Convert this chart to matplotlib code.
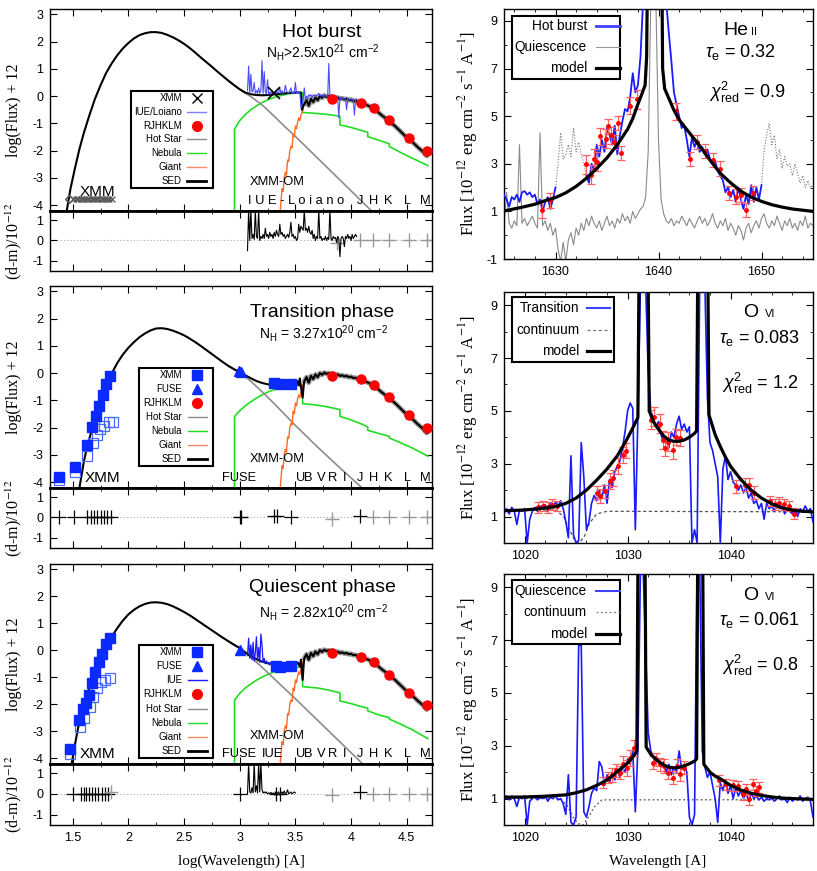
import numpy as np
import matplotlib
matplotlib.use('Agg')
import matplotlib.pyplot as plt
from matplotlib.patches import Rectangle
from matplotlib.ticker import MultipleLocator, FixedLocator

plt.rcParams['font.family'] = ['Liberation Sans', 'DejaVu Sans']
plt.rcParams['mathtext.fontset'] = 'custom'
plt.rcParams['mathtext.rm'] = 'Liberation Sans'
plt.rcParams['mathtext.it'] = 'Liberation Sans:italic'
plt.rcParams['mathtext.bf'] = 'Liberation Sans:bold'
plt.rcParams['axes.unicode_minus'] = False

# ===================== SED panels (left) =====================
# hot-star dominated part of the SED, per phase
sed_x_top = [1.446,1.48,1.52,1.56,1.6,1.65,1.7,1.75,1.8,1.85,1.9,1.95,2.0,2.05,2.1,2.15,2.2,2.25,2.3,2.35,
             2.4,2.45,2.5,2.55,2.6,2.65,2.7,2.75,2.8,2.85,2.9,2.95,3.0,3.05,3.1,3.15,3.2,3.25,3.3,3.35,
             3.4,3.45,3.5,3.53,3.55,3.56,3.57]
sed_y_top = [-4.22,-3.4,-2.65,-1.95,-1.35,-0.7,-0.1,0.4,0.85,1.2,1.5,1.75,1.95,2.12,2.24,2.31,2.35,2.35,2.32,2.25,
             2.16,2.05,1.92,1.77,1.6,1.42,1.25,1.08,0.9,0.73,0.56,0.4,0.25,0.13,0.07,0.04,0.03,0.04,0.06,0.08,
             0.1,0.12,0.13,0.14,0.13,-0.5,-0.35]
sed_x_mid = [1.56,1.6,1.63,1.66,1.7,1.75,1.8,1.85,1.9,1.95,2.0,2.05,2.1,2.15,2.2,2.25,2.3,2.35,2.4,2.45,
             2.5,2.55,2.6,2.65,2.7,2.75,2.8,2.85,2.9,2.95,3.0,3.05,3.1,3.15,3.2,3.25,3.3,3.35,3.4,3.45,
             3.5,3.52,3.53,3.54,3.55,3.565,3.575]
sed_y_mid = [-4.22,-3.25,-2.7,-2.25,-1.7,-1.05,-0.5,-0.02,0.37,0.68,0.93,1.14,1.32,1.46,1.57,1.64,1.65,1.62,1.56,1.48,
             1.39,1.27,1.14,1.0,0.85,0.7,0.55,0.4,0.26,0.14,0.03,-0.08,-0.19,-0.29,-0.36,-0.41,-0.44,-0.45,-0.45,-0.44,
             -0.42,-0.3,-0.45,-0.2,-0.5,-0.9,-0.45]
sed_x_bot = [1.49,1.52,1.55,1.58,1.6,1.63,1.66,1.7,1.75,1.8,1.85,1.9,1.95,2.0,2.05,2.1,2.15,2.2,2.25,2.3,
             2.35,2.4,2.45,2.5,2.55,2.6,2.65,2.7,2.75,2.8,2.85,2.9,2.95,3.0,3.05,3.1,3.15,3.2,3.25,3.3,
             3.35,3.4,3.45,3.5,3.52,3.54,3.55,3.565,3.575]
sed_y_bot = [-4.22,-3.5,-2.85,-2.35,-2.05,-1.65,-1.3,-0.85,-0.35,0.1,0.5,0.82,1.1,1.33,1.5,1.63,1.72,1.77,1.78,1.76,
             1.71,1.63,1.53,1.42,1.3,1.16,1.02,0.88,0.74,0.6,0.46,0.33,0.2,0.08,-0.08,-0.22,-0.33,-0.42,-0.48,-0.52,
             -0.55,-0.56,-0.57,-0.57,-0.45,-0.6,-0.35,-1.1,-0.5]

# giant-dominated part of the SED (same in all phases), from 3.58 step 0.02
giant_sed_start, giant_sed_step = 3.58, 0.02
giant_sed_y = [-0.3,-0.15,-0.35,-0.1,-0.22,-0.05,-0.15,0.0,-0.06,0.02,-0.03,0.0,-0.05,-0.02,-0.07,-0.05,-0.1,-0.08,
               -0.12,-0.1,-0.15,-0.13,-0.18,-0.17,-0.22,-0.24,-0.27,-0.3,-0.33,-0.36,-0.42,-0.45,-0.52,-0.58,-0.65,
               -0.72,-0.78,-0.85,-0.9,-0.98,-1.05,-1.12,-1.2,-1.28,-1.36,-1.44,-1.52,-1.58,-1.65,-1.72,-1.8,-1.88,
               -1.95,-2.02,-2.12,-2.2,-2.1]
# giant model rising part, from 3.36 step 0.01
giant_rise_start, giant_rise_step = 3.36, 0.01
giant_rise_y = [-4.4,-3.9,-3.4,-3.5,-3.0,-2.8,-2.9,-2.35,-2.4,-2.0,-1.85,-1.9,-1.4,-1.5,-1.1,-1.2,-0.95,-0.8,-0.9,
                -0.7,-0.6,-0.4]

# hot star component
hs_x = [2.9,3.0,3.1,3.2,3.3,3.4,3.5,3.6,3.7,3.8,3.9,4.0,4.1,4.2,4.3]
hs_y_top = [0.56,0.25,-0.02,-0.32,-0.7,-1.1,-1.48,-1.88,-2.28,-2.68,-3.08,-3.48,-3.88,-4.28,-4.68]
hs_y_mid = [0.26,0.03,-0.3,-0.68,-1.08,-1.5,-1.92,-2.32,-2.72,-3.1,-3.48,-3.85,-4.22,-4.6,-5.0]
hs_y_bot = [0.33,0.08,-0.26,-0.63,-1.02,-1.41,-1.8,-2.2,-2.6,-3.0,-3.4,-3.8,-4.2,-4.6,-5.0]

# nebular component
neb_x = [2.953,2.953,3.0,3.05,3.1,3.15,3.2,3.25,3.3,3.35,3.4,3.45,3.5,3.565,3.565,3.7,3.8,3.9,3.9,4.0,
         4.1,4.15,4.15,4.25,4.343,4.343,4.45,4.55,4.69]
neb_y_top = [-4.5,-1.22,-0.9,-0.68,-0.5,-0.36,-0.24,-0.14,-0.06,0.0,0.05,0.09,0.11,0.13,-0.6,-0.64,-0.68,-0.74,-1.06,-1.15,
             -1.27,-1.33,-1.49,-1.62,-1.75,-1.85,-2.08,-2.28,-2.55]
neb_y_mid = [-4.5,-1.6,-1.38,-1.2,-1.05,-0.92,-0.8,-0.7,-0.62,-0.56,-0.51,-0.48,-0.46,-0.45,-1.12,-1.18,-1.25,-1.34,-1.59,-1.72,
             -1.88,-1.98,-2.1,-2.22,-2.32,-2.38,-2.57,-2.75,-3.05]
neb_y_bot = [-4.5,-1.85,-1.6,-1.4,-1.25,-1.11,-1.0,-0.9,-0.82,-0.75,-0.7,-0.67,-0.64,-0.62,-1.35,-1.4,-1.48,-1.58,-1.88,-1.98,
             -2.1,-2.15,-2.25,-2.4,-2.5,-2.55,-2.75,-2.95,-3.28]

# photometry RJHKLM
rj_x = [3.83,4.09,4.21,4.34,4.52,4.68]
rj_y_top = [-0.1,-0.25,-0.45,-0.88,-1.55,-2.0]
rj_y_mid = [-0.12,-0.22,-0.45,-0.88,-1.55,-2.0]
rj_y_bot = [-0.1,-0.25,-0.45,-0.9,-1.57,-2.02]

# XMM points
xmm_x_top = [1.5,1.53,1.55,1.57,1.59,1.61,1.63,1.65,1.67,1.69,1.71,1.73,1.75,1.77,1.79,1.81,1.83,1.85]
xmm_y_top = [-3.78]*18
om_x_top, om_y_top = [3.31], [0.1]
xmm_x_mid = [1.38,1.518,1.632,1.677,1.707,1.737,1.77,1.80,1.836]
xmm_y_mid = [-3.8,-3.44,-2.65,-1.98,-1.59,-1.2,-0.82,-0.4,-0.11]
xmmu_x_mid = [1.38,1.518,1.632,1.686,1.716,1.746,1.78,1.83,1.86]
xmmu_y_mid = [-3.94,-3.63,-3.05,-2.56,-2.27,-2.05,-1.93,-1.8,-1.78]
om_x_mid, om_y_mid = [3.31,3.36,3.46], [-0.37,-0.39,-0.39]
fuse_x_mid, fuse_y_mid = [2.995,3.01], [0.08,0.04]
xmm_x_bot = [1.476,1.56,1.59,1.62,1.65,1.674,1.704,1.734,1.764,1.80,1.836]
xmm_y_bot = [-3.67,-2.6,-2.17,-1.96,-1.65,-1.22,-0.8,-0.44,-0.15,0.22,0.47]
xmmu_x_bot = [1.476,1.566,1.60,1.656,1.686,1.72,1.755,1.79,1.836]
xmmu_y_bot = [-3.85,-2.86,-2.52,-2.09,-1.72,-1.41,-1.19,-1.1,-1.04]
om_x_bot, om_y_bot = [3.33,3.36,3.46], [-0.6,-0.62,-0.6]
fuse_x_bot, fuse_y_bot = [3.0], [0.0]

# IUE/Loiano spectrum (hot burst), from 3.07 step 0.01
iue_start, iue_step = 3.07, 0.01
iue_top = [0.2,1.1,0.1,0.8,0.15,0.2,0.5,0.1,0.2,0.1,
           0.3,0.1,0.2,1.3,0.1,0.9,0.15,0.1,0.6,0.05,
           0.15,0.1,0.2,0.05,0.15,0.1,0.2,0.1,0.15,0.3,
           0.1,0.2,0.1,0.15,0.4,0.2,0.12,0.1,0.2,0.3,
           0.1,0.15,0.1,0.5,0.1,0.15,0.1,0.15,-0.45,-0.3,
           -0.1,0.3,-0.15,0.0,-0.1,0.05,0.0,0.05,-0.05,0.05,
           0.0,0.05,0.02,0.06,0.1,0.05,0.0,0.04,-0.02,0.03,
           0.0,0.02,-0.03,1.2,0.0,-0.02,-0.05,0.0,-0.05,-0.02,
           -0.08,-0.05,-0.8,-0.05,-0.1,-0.06,-0.1,-0.08,-0.12,-0.5,
           -0.1,-0.15,-0.12,-0.1,-0.15,-0.12,-0.7,-0.15,-0.1]
res_top = [-0.5,1.5,0.0,1.5,0.1,0.3,0.05,1.5,0.2,0.1,
           1.5,0.0,0.2,0.1,0.3,0.1,0.6,0.2,0.3,0.1,
           0.4,0.2,0.3,0.1,0.4,0.2,0.5,0.3,0.2,0.8,
           0.3,0.4,0.2,0.3,0.1,0.2,0.3,0.15,0.4,0.9,
           0.2,0.3,0.1,0.2,0.0,0.1,0.8,0.4,0.7,0.6,
           0.5,1.5,0.5,0.6,0.4,0.7,0.4,0.3,0.5,0.1,
           0.3,0.0,0.2,0.1,1.5,0.1,0.2,0.0,0.1,0.05,
           0.2,0.0,0.15,0.05,1.5,0.1,0.0,0.2,0.1,0.15,
           -0.1,0.2,0.1,-0.8,0.1,0.2,0.1,-0.3,0.2,0.1,
           0.3,0.1,0.2,0.0,0.3,0.1,0.2,0.3,0.2]
# IUE spectrum (quiescence) and residuals, from 3.07 step 0.01
iue_bot = [-0.2,0.45,-0.3,0.2,-0.35,0.3,-0.4,-0.1,0.5,-0.4,
           0.1,-0.45,0.6,0.2,-0.45,-0.3,-0.5,-0.4,-0.5,-0.45,
           -0.55,-0.45,-0.55,-0.5,-0.65,-0.55,-0.7,-0.6,-0.55,-0.65,
           -0.55,-0.6,-0.5,-0.65,-0.55,-0.6,-0.5,-0.6,-0.55,-0.45,
           -0.6,-0.5,-0.6,-0.5]
res_bot = [0.0,1.5,0.1,0.05,0.3,0.05,1.5,0.1,0.4,0.05,
           1.5,0.1,1.5,0.2,0.05,0.1,0.05,0.1,0.0,0.05,
           0.02,0.08,0.0,0.05,-0.05,0.1,-0.1,0.05,0.1,-0.05,
           0.05,0.1,0.0,0.15,0.0,0.05,0.2,0.0,0.05,0.1,
           0.0,0.05,0.1,0.05]

# residual points (d-m)
rp_top_gx, rp_top_gy = [3.87,4.08,4.2,4.34,4.52,4.68], [-0.1,0,0,0,0,0]
rp_mid_x = [1.38,1.51,1.63,1.66,1.69,1.72,1.75,1.78,1.81,1.84,3.0,3.015,3.31,3.335,3.46,4.08]
rp_mid_y = [0,0,0,0,0,0,0,0,0,0,0,0,0.05,0.05,0,0.08]
rp_mid_gx, rp_mid_gy = [3.83,4.2,4.34,4.52,4.68], [-0.08,0,0,0,0]
rp_bot_x = [1.5,1.57,1.6,1.62,1.65,1.67,1.7,1.73,1.76,1.79,1.82,3.0,3.33,3.36,4.08]
rp_bot_y = [0,0,0,0,0,0,0,0,0,0,0,0,0,0,0.08]
rp_bot_gx, rp_bot_gy = [1.84,3.83,4.2,4.34,4.52,4.68], [0.1,-0.05,0,0,0,0]

# ===================== line-profile panels (right) =====================
# He II 1640 -- hot burst
hb_seg1_start, hb_seg1 = 1625.0, [1.7,1.5,1.2,1.6,1.5,1.7,1.4,1.8,1.85,1.7,1.8,1.6,1.7,1.3,1.5,1.0,1.4,1.6,1.1,1.5,2.0]
hb_seg2_start, hb_seg2 = 1633.0, [2.5,2.2,3.0,2.7,3.8,3.3,4.0,3.5,4.5,4.2,3.8,4.6,3.4,4.2,4.8,5.3,5.2,5.8,6.8,6.0,6.3,7.5,9.8]
hb_seg3_start, hb_seg3 = 1640.75, [9.8,8.5,7.3,6.0,5.5,5.0,4.5,4.6,4.0,3.3,4.1,3.7,4.0,3.5,3.7,3.4,3.6,3.2,3.0,3.1,
                                   2.7,2.5,2.3,1.8,2.0,1.6,1.9,1.4,2.0,1.5,1.1,1.7,1.3,2.1,1.4,2.0,1.5,2.1]
hb_dot1_start, hb_dot1 = 1630.0, [2.0,3.0,4.3,3.2,3.4,3.8,3.3,4.5,3.5,3.9,3.4,3.0,2.5]
hb_dot2_start, hb_dot2 = 1650.0, [2.1,3.5,4.2,4.7,3.8,4.2,3.2,3.6,2.8,3.3,2.9,3.0,2.5,3.0,2.6,2.2,2.5,2.0,2.3,2.0,2.1]
spec_step = 0.25
hq_start = 1625.0
hq_flux = [0.4,1.8,0.5,0.3, 0.6,0.4,3.8,0.5, 0.7,0.4,0.6,0.8, 0.5,0.3,4.3,0.4, 0.6,0.2,0.5,0.0,
           0.3,-0.6,-1.1,-0.3, -1.1,-0.2,0.1,-0.4, 0.3,0.0,0.5,0.2, 0.7,0.4,0.8,0.5, 0.3,0.6,0.2,0.5,
           0.8,0.4,0.6,0.3, 0.7,0.5,0.9,0.6, 0.8,0.5,1.0,0.7, 0.9,1.1,1.2,1.6, 3.5,9.8,9.8,9.8,
           4.0,1.5,0.9,0.6, 0.5,0.7,0.4,0.6, 0.5,0.8,0.6,0.4, 0.7,0.5,0.3,0.6, 0.8,0.5,0.7,0.4,
           0.6,0.9,0.5,0.3, 0.6,0.4,0.7,0.2, 0.5,0.3,0.0,0.4, 0.2,-0.2,0.3,0.5, 0.1,0.4,0.6,0.3,
           0.7,0.9,0.5,0.3, 0.6,0.4,0.8,0.5, 0.2,0.6,0.4,0.7, 0.3,0.5,0.2,0.6, 0.4,0.8,0.3,0.5, 0.4]
he_mL_x = [1625,1626.5,1628,1629,1630,1631,1632,1633,1634,1635,1636,1637,1637.5,1638,1638.4,1638.7,1638.85,1638.9]
he_mL_y = [1.02,1.15,1.3,1.45,1.58,1.78,2.05,2.39,2.8,3.25,3.8,4.45,4.9,5.5,5.95,6.3,7.5,9.8]
he_mR_x = [1640.35,1640.4,1640.6,1641,1641.5,1642,1643,1644,1645,1646,1647,1648,1649,1650,1651,1652,1653,1654,1655]
he_mR_y = [9.8,7.0,6.15,5.75,5.25,4.85,4.3,3.75,3.15,2.6,2.2,1.85,1.6,1.42,1.28,1.18,1.1,1.05,1.0]
he_pts_x = [1628.7,1629.5,1633.0,1633.4,1633.7,1634.0,1634.3,1634.9,1635.1,1635.4,1635.7,1636.1,1636.4,1637.2,1637.9,
            1641.7,1643.1,1643.7,1644.5,1645.3,1646.0,1646.8,1647.5,1648.0,1648.5,1649.2]
he_pts_y = [1.07,1.46,2.98,2.53,3.2,3.08,4.15,4.05,4.57,4.2,3.9,4.7,3.46,5.44,5.7,
            5.2,3.2,3.9,3.55,3.15,2.8,1.76,1.62,1.7,1.07,1.76]
he_pts_e = [0.35,0.3,0.4,0.4,0.4,0.4,0.35,0.4,0.3,0.35,0.3,0.3,0.3,0.35,0.4,
            0.35,0.3,0.3,0.3,0.3,0.3,0.3,0.3,0.3,0.3,0.3]

# O VI 1032/1038 -- transition
ov_start = 1018.0
ovt_flux = [1.2,1.3,1.1,1.35, 1.2,0.7,1.25,1.2, 1.3,0.0,0.9,1.2, 1.35,1.2,1.4,1.3, 1.45,1.2,1.5,1.3,
            1.55,1.4,1.6,1.3, 0.8,0.2,3.3,0.3, 0.0,0.1,3.8,2.5, 0.5,0.8,1.5,1.8, 1.6,2.0,1.7,2.2,
            1.5,2.4,2.1,2.7, 2.9,3.1,3.6,4.2, 5.0,5.3,5.1,0.5, 4.8,9.8,9.8,9.8, 6.5,5.0,4.7,4.4,
            4.6,4.1,3.8,4.0, 3.6,4.2,4.0,4.5, 4.8,4.3,4.5,4.2, 4.4,0.0,0.5,0.0, 9.8,9.8,9.8,5.5,
            3.8,3.5,3.0,2.5, 0.0,2.8,3.3,2.4, 2.7,2.3,2.2,2.0, 2.2,1.9,2.1,1.7, 1.9,1.5,1.6,1.3,
            1.5,0.9,1.5,1.3, 1.4,1.2,1.5,1.3, 1.4,1.1,1.3,1.2, 1.1,1.3,1.0,1.3, 1.2,1.4,1.2,1.3, 0.8]
ovt_mA_x = [1018,1020,1021.5,1023,1024,1025,1026,1027,1028,1029,1029.9,1030.5,1031.0,1031.1]
ovt_mA_y = [1.22,1.25,1.3,1.38,1.5,1.7,2.0,2.38,2.8,3.3,3.9,4.35,4.75,9.8]
ovt_mB_x = [1032.0,1032.1,1032.5,1033,1033.5,1034,1034.5,1035,1035.5,1036,1036.5,1036.7,1036.8]
ovt_mB_y = [9.8,5.0,4.6,4.3,4.05,3.9,3.85,3.85,3.9,4.0,4.15,4.25,9.8]
ovt_mC_x = [1037.8,1037.9,1038.5,1039,1039.5,1040,1041,1042,1043,1044,1045,1046,1047,1048]
ovt_mC_y = [9.8,4.85,4.1,3.65,3.25,2.9,2.4,2.0,1.7,1.48,1.33,1.24,1.2,1.18]
ovt_cont_x = [1018,1023,1023.8,1024.3,1024.8,1025.3,1025.8,1026.3,1027,1028,1048]
ovt_cont_y = [1.25,1.25,1.0,0.55,0.15,0.0,0.25,0.75,1.1,1.2,1.18]
ovt_pts_x = [1021.3,1021.8,1022.3,1022.7,1023.1,1027.0,1027.3,1027.8,1028.3,1028.6,1029.1,1029.6,1029.8,
             1032.3,1032.6,1033.1,1033.4,1033.6,1033.9,1034.4,1034.7,1035.1,
             1040.5,1041.4,1041.8,1042.3,1043.8,1044.3,1044.7,1045.2,1045.7,1046.2]
ovt_pts_y = [1.35,1.4,1.35,1.45,1.4,1.9,1.78,1.96,2.34,2.46,2.9,3.34,3.5,
             4.67,4.78,4.52,3.9,3.59,3.84,3.52,4.02,3.96,
             2.15,2.21,2.2,1.9,1.59,1.46,1.53,1.46,1.4,1.11]
ovt_pts_e = [0.2,0.2,0.2,0.2,0.2,0.25,0.25,0.25,0.3,0.3,0.3,0.3,0.3,
             0.35,0.35,0.35,0.35,0.3,0.35,0.35,0.3,0.3,
             0.25,0.25,0.25,0.25,0.2,0.2,0.2,0.2,0.2,0.2]

# O VI -- quiescence
ovq_flux = [1.0,1.1,0.95,1.1, 1.0,0.7,1.05,1.0, 1.1,0.0,0.9,1.0, 1.1,0.95,1.05,1.0, 1.1,0.9,1.05,1.0,
            1.1,0.95,1.0,0.8, 0.4,1.9,0.1,0.0, 0.3,6.8,6.8,0.5, 0.3,0.7,1.2,1.4, 1.3,2.4,2.2,1.5,
            1.9,1.6,2.0,1.7, 2.1,1.8,2.2,2.0, 2.5,2.3,2.8,0.5, 2.9,9.8,9.8,6.7, 3.5,2.8,2.6,2.4,
            2.5,2.2,2.4,2.0, 2.3,1.9,2.2,2.0, 2.8,2.1,2.3,2.0, 0.3,0.0,0.4,9.8, 9.8,2.8,2.2,1.8,
            2.0,1.5,1.0,0.1, 1.6,1.3,1.7,1.2, 1.5,1.0,1.4,1.1, 1.3,1.0,1.2,0.9, 1.2,1.0,1.1,0.95,
            1.05,0.9,1.0,0.95, 1.05,0.9,1.0,1.1, 0.95,1.0,0.85,1.05, 0.9,1.0,0.95,1.1, 0.9,1.0,1.05,0.9, 0.3]
ovq_mA_x = [1018,1020,1022,1024,1025,1026,1027,1028,1029,1030,1030.6,1030.9,1031.0]
ovq_mA_y = [1.05,1.06,1.09,1.14,1.22,1.33,1.5,1.7,2.02,2.35,2.62,2.8,9.8]
ovq_mB_x = [1031.7,1031.8,1032.3,1033,1033.5,1034,1034.5,1035,1035.5,1036,1036.5,1036.7,1036.8]
ovq_mB_y = [9.8,2.95,2.65,2.4,2.27,2.19,2.16,2.18,2.24,2.32,2.42,2.5,9.8]
ovq_mC_x = [1037.3,1037.4,1038,1038.5,1039,1040,1041,1042,1043,1044,1045,1046,1048]
ovq_mC_y = [9.8,2.3,2.0,1.85,1.75,1.5,1.32,1.2,1.12,1.06,1.02,1.0,0.97]
ovq_cont_x = [1018,1023.5,1024.2,1024.7,1025.2,1025.7,1026.2,1026.8,1027.5,1048]
ovq_cont_y = [1.0,1.0,0.7,0.3,0.05,0.0,0.3,0.7,0.95,0.96]
ovq_pts_x = [1027.6,1028.1,1028.5,1028.9,1029.3,1029.6,1029.9,1030.2,1030.6,
             1032.5,1032.8,1033.1,1033.5,1033.9,1034.4,1034.8,1035.1,1035.5,
             1038.9,1039.6,1040.2,1040.7,1041.2,1041.5,1041.8,1042.2,1042.5,1042.8]
ovq_pts_y = [1.6,1.79,1.89,2.07,1.98,2.3,2.17,2.55,2.93,
             2.36,2.49,2.3,2.23,1.98,1.79,2.23,1.92,2.17,
             1.69,1.54,1.5,1.48,1.16,1.35,0.97,1.54,1.29,1.42]
ovq_pts_e = [0.2,0.2,0.25,0.25,0.25,0.3,0.3,0.3,0.3,
             0.25,0.25,0.25,0.25,0.25,0.25,0.25,0.25,0.25,
             0.2,0.2,0.2,0.2,0.2,0.2,0.2,0.2,0.2,0.2]

# ===================== helpers =====================
def grid(start, step, vals):
    return start + step * np.arange(len(vals))

BLUE = '#1a1aff'
GREEN = '#22dd22'
ORANGE = '#ff6a2a'
GRAY = '#8c8c8c'
RED = '#ff0000'
SERIF = 'Liberation Serif'

W, H = 817.0, 871.0
fig = plt.figure(figsize=(8.17, 8.71), dpi=100)

def box(x0, y0, x1, y1):
    return [x0 / W, 1 - y1 / H, (x1 - x0) / W, (y1 - y0) / H]

def style(ax):
    ax.tick_params(which='both', direction='in', top=True, right=True, labelsize=9, pad=5)
    ax.tick_params(which='major', length=5, width=0.8)
    ax.tick_params(which='minor', length=2.5, width=0.6)
    for s in ax.spines.values():
        s.set_linewidth(1.0)

def gkey(ax, x0, y0, x1, y1, entries, fs, xt, xh, hl):
    ax.add_patch(Rectangle((x0, y0), x1 - x0, y1 - y0, transform=ax.transAxes, facecolor='white',
                           edgecolor='black', lw=1.5, zorder=20, clip_on=False))
    n = len(entries)
    dy = (y1 - y0) / n
    for i, (lab, kw) in enumerate(entries):
        yc = y1 - (i + 0.5) * dy
        ax.text(xt, yc, lab, transform=ax.transAxes, ha='right', va='center', fontsize=fs, zorder=21)
        if 'marker' in kw:
            ax.plot([xh], [yc], transform=ax.transAxes, zorder=21, clip_on=False, linestyle='none', **kw)
        else:
            ax.plot([xh - hl / 2, xh + hl / 2], [yc, yc], transform=ax.transAxes, zorder=21,
                    clip_on=False, **kw)

giant_x = np.concatenate([grid(giant_rise_start, giant_rise_step, giant_rise_y),
                          grid(giant_sed_start, giant_sed_step, giant_sed_y)])
giant_y = np.concatenate([giant_rise_y, np.array(giant_sed_y) - 0.03])
gsed_x = grid(giant_sed_start, giant_sed_step, giant_sed_y)

L_main = [box(50, 9, 432, 211), box(50, 286, 432, 488), box(50, 564, 432, 764)]
L_res = [box(50, 211, 432, 271), box(50, 488, 432, 548), box(50, 764, 432, 825)]
R_pos = [box(504, 9, 813, 259), box(504, 292, 813, 543), box(504, 574, 813, 825)]

sed_sets = [
    dict(sx=sed_x_top, sy=sed_y_top, hs=hs_y_top, neb=neb_y_top, rj=rj_y_top),
    dict(sx=sed_x_mid, sy=sed_y_mid, hs=hs_y_mid, neb=neb_y_mid, rj=rj_y_mid),
    dict(sx=sed_x_bot, sy=sed_y_bot, hs=hs_y_bot, neb=neb_y_bot, rj=rj_y_bot),
]
titles = ['Hot burst', 'Transition phase', 'Quiescent phase']
nh_txt = [r'N$_{\mathrm{H}}$>2.5x10$^{21}$ cm$^{-2}$', r'N$_{\mathrm{H}}$ = 3.27x10$^{20}$ cm$^{-2}$',
          r'N$_{\mathrm{H}}$ = 2.82x10$^{20}$ cm$^{-2}$']
title_y = [2.32, 2.24, 2.32]
nh_y = [1.6, 1.47, 1.4]

for k in range(3):
    d = sed_sets[k]
    axm = fig.add_axes(L_main[k])
    axr = fig.add_axes(L_res[k])
    for ax in (axm, axr):
        style(ax)
        ax.set_xlim(1.296, 4.727)
        ax.xaxis.set_major_locator(MultipleLocator(0.5))
        ax.xaxis.set_minor_locator(MultipleLocator(0.25))
    axm.set_ylim(-4.22, 3.2)
    axm.yaxis.set_major_locator(MultipleLocator(1))
    axm.tick_params(labelbottom=False)
    axr.set_ylim(-1.5, 1.45)
    axr.yaxis.set_major_locator(FixedLocator([-1, 0, 1]))
    if k < 2:
        axr.tick_params(labelbottom=False)
    axm.spines['bottom'].set_linewidth(2.0)
    axr.spines['top'].set_linewidth(2.0)

    # components
    axm.plot(neb_x, d['neb'], color=GREEN, lw=1.2, zorder=2)
    axm.plot(hs_x, d['hs'], color=GRAY, lw=1.2, zorder=2)
    axm.plot(giant_x, giant_y, color=ORANGE, lw=1.0, zorder=3)
    axm.plot(gsed_x, giant_sed_y, color='#9a9a9a', lw=3.5, zorder=3.5, solid_capstyle='round')
    sx = np.concatenate([d['sx'], gsed_x])
    sy = np.concatenate([d['sy'], giant_sed_y])
    axm.plot(sx, sy, color='black', lw=1.5, zorder=4)
    axm.plot(rj_x, d['rj'], 'o', color=RED, ms=6.5, mec=RED, zorder=7)
    axm.text(3.74, title_y[k], titles[k], fontsize=14, ha='center', va='center')
    axm.text(3.75, nh_y[k], nh_txt[k], fontsize=10, ha='center', va='center')
    axr.axhline(0, color='#aaaaaa', ls=(0, (1, 2)), lw=0.8, zorder=1)

    # band labels
    for lab, xx in zip(['J', 'H', 'K', 'L', 'M'], [4.08, 4.2, 4.33, 4.51, 4.67]):
        axm.text(xx, -3.85, lab, fontsize=9.3, ha='center', va='center')
    axm.text(3.34, -3.17, 'XMM-OM', fontsize=9.3, ha='center', va='center')
    if k == 0:
        axm.text(3.07, -3.85, 'I U E - L o i a n o', fontsize=9.3, ha='left', va='center')
        axm.text(1.72, -3.53, 'XMM', fontsize=11, ha='center', va='center')
    else:
        for lab, xx in zip(['U', 'B', 'V', 'R', 'I'], [3.55, 3.62, 3.73, 3.83, 3.94]):
            axm.text(xx, -3.85, lab, fontsize=9.3, ha='center', va='center')
        axm.text(2.99, -3.85, 'FUSE', fontsize=9.3, ha='center', va='center')
        axm.text(1.77 if k == 1 else 1.72, -3.85, 'XMM', fontsize=11, ha='center', va='center')
        if k == 2:
            axm.text(3.29, -3.85, 'IUE', fontsize=9.3, ha='center', va='center')

    leg_common = [('Hot Star', dict(color=GRAY, lw=1.0)),
                  ('Nebula', dict(color=GREEN, lw=1.0)),
                  ('Giant', dict(color='#ff8a60', lw=1.0)),
                  ('SED', dict(color='black', lw=2.0))]
    if k == 0:
        axm.plot(grid(iue_start, iue_step, iue_top), iue_top, color='#4a4aff', lw=0.8, zorder=5)
        axm.plot(xmm_x_top, xmm_y_top, 'x', color='#555555', ms=5, mew=0.9, zorder=6)
        axm.plot([1.47], [-3.78], 'D', mfc='none', mec='#555555', ms=4, zorder=6)
        axm.plot(om_x_top, om_y_top, 'x', color='black', ms=9, mew=1.2, zorder=6)
        axr.plot(grid(iue_start, iue_step, res_top), res_top, color='black', lw=0.8, zorder=3)
        axr.plot(rp_top_gx, rp_top_gy, '+', color='#999999', ms=10, mew=1.0)
        entries = [('XMM', dict(marker='x', color='black', ms=7, mew=1.0)),
                   ('IUE/Loiano', dict(color='#8080ff', lw=1.0)),
                   ('RJHKLM', dict(marker='o', color=RED, ms=7))] + leg_common
        gkey(axm, 0.212, 0.114, 0.427, 0.594, entries, 7, 0.345, 0.384, 0.05)
    elif k == 1:
        axm.plot(xmmu_x_mid, xmmu_y_mid, 's', mfc='none', mec='#4a6aff', ms=6.5, mew=0.9, zorder=5)
        axm.plot(xmm_x_mid, xmm_y_mid, 's', color='#0a2aff', ms=6.5, zorder=6)
        axm.plot(om_x_mid, om_y_mid, 's', color='#0a2aff', ms=6.5, zorder=6)
        axm.plot(fuse_x_mid, fuse_y_mid, '^', color='#0a2aff', ms=7, zorder=6)
        axr.plot(rp_mid_x, rp_mid_y, '+', color='black', ms=10, mew=0.9)
        axr.plot(rp_mid_gx, rp_mid_gy, '+', color='#999999', ms=10, mew=1.0)
        entries = [('XMM', dict(marker='s', color='#0a2aff', ms=7)),
                   ('FUSE', dict(marker='^', color='#0a2aff', ms=7)),
                   ('RJHKLM', dict(marker='o', color=RED, ms=7))] + leg_common
        gkey(axm, 0.233, 0.109, 0.427, 0.594, entries, 7, 0.345, 0.385, 0.05)
    else:
        axm.plot(grid(iue_start, iue_step, iue_bot), iue_bot, color=BLUE, lw=0.9, zorder=5)
        axm.plot(xmmu_x_bot, xmmu_y_bot, 's', mfc='none', mec='#4a6aff', ms=6.5, mew=0.9, zorder=5)
        axm.plot(xmm_x_bot, xmm_y_bot, 's', color='#0a2aff', ms=6.5, zorder=6)
        axm.plot(om_x_bot, om_y_bot, 's', color='#0a2aff', ms=6.5, zorder=6)
        axm.plot(fuse_x_bot, fuse_y_bot, '^', color='#0a2aff', ms=7, zorder=6)
        axr.plot(grid(iue_start, iue_step, res_bot), res_bot, color='black', lw=0.8, zorder=3)
        axr.plot(rp_bot_x, rp_bot_y, '+', color='black', ms=10, mew=0.9)
        axr.plot(rp_bot_gx, rp_bot_gy, '+', color='#999999', ms=10, mew=1.0)
        entries = [('XMM', dict(marker='s', color='#0a2aff', ms=7)),
                   ('FUSE', dict(marker='^', color='#0a2aff', ms=7)),
                   ('IUE', dict(color=BLUE, lw=1.0)),
                   ('RJHKLM', dict(marker='o', color=RED, ms=7))] + leg_common
        gkey(axm, 0.233, 0.03, 0.427, 0.595, entries, 7, 0.345, 0.385, 0.05)
        axr.set_xticks([1.5, 2, 2.5, 3, 3.5, 4, 4.5])
        axr.set_xticklabels(['1.5', '2', '2.5', '3', '3.5', '4', '4.5'])

    # y labels
    fig.text(0.017, L_main[k][1] + L_main[k][3] / 2, 'log(Flux) + 12', rotation=90, ha='center', va='center',
             family=SERIF, fontsize=11.5)
    fig.text(0.017, L_res[k][1] + L_res[k][3] / 2, r'(d-m)/10$^{-12}$', rotation=90, ha='center', va='center',
             family=SERIF, fontsize=11.5, math_fontfamily='stix')

fig.text(241 / W, 1 - 861 / H, 'log(Wavelength) [A]', ha='center', va='center', family=SERIF, fontsize=11)
fig.text(658 / W, 1 - 861 / H, 'Wavelength [A]', ha='center', va='center', family=SERIF, fontsize=11)

# ---------------- right panels ----------------
for k in range(3):
    ax = fig.add_axes(R_pos[k])
    style(ax)
    ax.xaxis.set_major_locator(MultipleLocator(10))
    ax.xaxis.set_minor_locator(MultipleLocator(2))
    if k == 0:
        ax.set_xlim(1625, 1655)
        ax.set_ylim(-1, 9.5)
        ax.yaxis.set_major_locator(FixedLocator([-1, 1, 3, 5, 7, 9]))
        ax.yaxis.set_minor_locator(FixedLocator([0, 2, 4, 6, 8]))
        ax.plot(grid(hq_start, spec_step, hq_flux), hq_flux, color='#8a8a8a', lw=0.8, zorder=2)
        ax.plot(grid(hb_dot1_start, spec_step, hb_dot1), hb_dot1, color='#777777', lw=0.8, ls=(0, (1, 1.5)), zorder=2)
        ax.plot(grid(hb_dot2_start, spec_step, hb_dot2), hb_dot2, color='#777777', lw=0.8, ls=(0, (1, 1.5)), zorder=2)
        for st, seg in [(hb_seg1_start, hb_seg1), (hb_seg2_start, hb_seg2), (hb_seg3_start, hb_seg3)]:
            ax.plot(grid(st, spec_step, seg), seg, color=BLUE, lw=1.3, zorder=3)
        ax.errorbar(he_pts_x, he_pts_y, yerr=he_pts_e, fmt='o', color=RED, ms=2.5, ecolor='#ff6060',
                    elinewidth=0.9, capsize=3, capthick=0.9, zorder=4)
        ax.plot(he_mL_x, he_mL_y, color='black', lw=2.3, zorder=5)
        ax.plot(he_mR_x, he_mR_y, color='black', lw=2.3, zorder=5)
        entries = [('Hot burst', dict(color='#4040ff', lw=2.0)),
                   ('Quiescence', dict(color='#999999', lw=0.8)),
                   ('model', dict(color='black', lw=2.3))]
        gkey(ax, 0.026, 0.72, 0.375, 0.972, entries, 9.8, 0.268, 0.336, 0.078)
        ax.text(0.79, 0.896, 'He', transform=ax.transAxes, ha='right', va='baseline', fontsize=14)
        ax.text(0.80, 0.896, 'II', transform=ax.transAxes, ha='left', va='baseline', fontsize=8)
        ax.text(0.764, 0.828, r'$\tau_{\mathrm{e}}$ = 0.32', transform=ax.transAxes, ha='center', va='center', fontsize=13)
        ax.text(0.786, 0.668, r'$\chi^2_{\mathrm{red}}$ = 0.9', transform=ax.transAxes, ha='center', va='center', fontsize=13)
    else:
        ax.set_xlim(1018, 1048)
        ax.set_ylim(0, 9.5)
        ax.yaxis.set_major_locator(FixedLocator([1, 3, 5, 7, 9]))
        ax.yaxis.set_minor_locator(FixedLocator([0, 2, 4, 6, 8]))
        if k == 1:
            flux, mA, mB, mC = ovt_flux, (ovt_mA_x, ovt_mA_y), (ovt_mB_x, ovt_mB_y), (ovt_mC_x, ovt_mC_y)
            cx, cy = ovt_cont_x, ovt_cont_y
            px, py, pe = ovt_pts_x, ovt_pts_y, ovt_pts_e
            lab, tau, chi = 'Transition', '0.083', '1.2'
            cls = (0, (2.5, 2))
            ybase, ytau = 0.902, 0.816
        else:
            flux, mA, mB, mC = ovq_flux, (ovq_mA_x, ovq_mA_y), (ovq_mB_x, ovq_mB_y), (ovq_mC_x, ovq_mC_y)
            cx, cy = ovq_cont_x, ovq_cont_y
            px, py, pe = ovq_pts_x, ovq_pts_y, ovq_pts_e
            lab, tau, chi = 'Quiescence', '0.061', '0.8'
            cls = (0, (1.5, 2))
            ybase, ytau = 0.896, 0.817
        ax.plot(cx, cy, color='#555555', lw=0.9, ls=cls, zorder=2)
        ax.plot(grid(ov_start, spec_step, flux), flux, color=BLUE, lw=1.2, zorder=3)
        ax.errorbar(px, py, yerr=pe, fmt='o', color=RED, ms=2.5, ecolor='#ff6060',
                    elinewidth=0.9, capsize=3, capthick=0.9, zorder=4)
        for mx, my in (mA, mB, mC):
            ax.plot(mx, my, color='black', lw=2.3, zorder=5)
        entries = [(lab, dict(color='#4040ff', lw=1.5)),
                   ('continuum', dict(color='#777777', lw=0.9, ls=cls)),
                   ('model', dict(color='black', lw=2.3))]
        if k == 1:
            gkey(ax, 0.026, 0.721, 0.356, 0.98, entries, 9.8, 0.244, 0.305, 0.075)
        else:
            gkey(ax, 0.026, 0.72, 0.375, 0.976, entries, 9.8, 0.268, 0.336, 0.078)
        ax.text(0.822, ybase, 'O', transform=ax.transAxes, ha='right', va='baseline', fontsize=14)
        ax.text(0.845, ybase, 'VI', transform=ax.transAxes, ha='left', va='baseline', fontsize=8)
        ax.text(0.828, ytau, r'$\tau_{\mathrm{e}}$ = ' + tau, transform=ax.transAxes, ha='center', va='center', fontsize=13)
        ax.text(0.828, 0.637, r'$\chi^2_{\mathrm{red}}$ = ' + chi, transform=ax.transAxes, ha='center', va='center', fontsize=13)
    fig.text(468 / W, R_pos[k][1] + R_pos[k][3] / 2, r'Flux [10$^{-12}$ erg cm$^{-2}$ s$^{-1}$ A$^{-1}$]',
             rotation=90, ha='center', va='center', family=SERIF, fontsize=12, math_fontfamily='stix')

fig.savefig('out.png', dpi=100)
